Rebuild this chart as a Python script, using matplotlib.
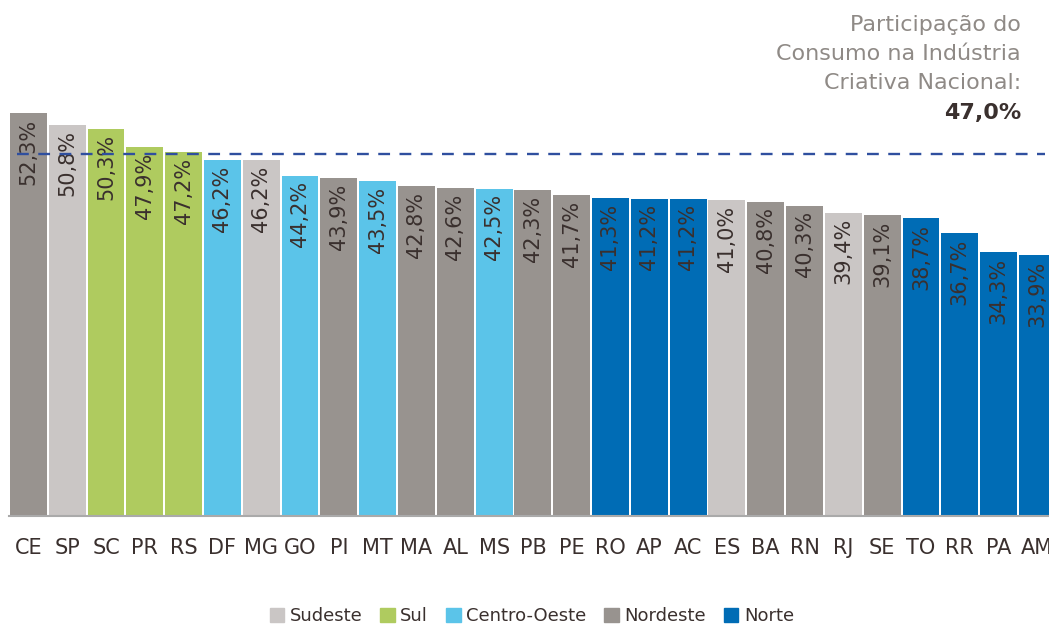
import matplotlib.pyplot as plt
from matplotlib.patches import Patch

# states, share (%) and region
estados = ['CE', 'SP', 'SC', 'PR', 'RS', 'DF', 'MG', 'GO', 'PI', 'MT', 'MA', 'AL', 'MS', 'PB',
           'PE', 'RO', 'AP', 'AC', 'ES', 'BA', 'RN', 'RJ', 'SE', 'TO', 'RR', 'PA', 'AM']
valores = [52.3, 50.8, 50.3, 47.9, 47.2, 46.2, 46.2, 44.2, 43.9, 43.5, 42.8, 42.6, 42.5, 42.3,
           41.7, 41.3, 41.2, 41.2, 41.0, 40.8, 40.3, 39.4, 39.1, 38.7, 36.7, 34.3, 33.9]
regioes = ['Nordeste', 'Sudeste', 'Sul', 'Sul', 'Sul', 'Centro-Oeste', 'Sudeste', 'Centro-Oeste',
           'Nordeste', 'Centro-Oeste', 'Nordeste', 'Nordeste', 'Centro-Oeste', 'Nordeste',
           'Nordeste', 'Norte', 'Norte', 'Norte', 'Sudeste', 'Nordeste', 'Nordeste', 'Sudeste',
           'Nordeste', 'Norte', 'Norte', 'Norte', 'Norte']
media_nacional = 47.0

cores = {'Sudeste': '#cac6c5', 'Sul': '#afcb5f', 'Centro-Oeste': '#5bc4e9',
         'Nordeste': '#98938f', 'Norte': '#006cb5'}
ordem_legenda = ['Sudeste', 'Sul', 'Centro-Oeste', 'Nordeste', 'Norte']

escuro = '#3a302e'
cinza_txt = '#8f8a86'

fig = plt.figure(figsize=(10.49, 6.26), dpi=100)
ax = fig.add_axes([9/1049, 110/626, 1040/1049, 516/626])

x = list(range(len(estados)))
ax.bar(x, valores, width=0.95, color=[cores[r] for r in regioes], zorder=2)

for xi, v in zip(x, valores):
    ax.annotate(f'{v:.1f}%'.replace('.', ','), (xi, v), xytext=(0, -4),
                textcoords='offset points', rotation=90, ha='center', va='top',
                fontsize=15, color=escuro, zorder=3)

line = ax.hlines(media_nacional, -0.3, 26.2, color='#2f4f9f', lw=1.7, zorder=4)
line.set_linestyle((0, (5, 4)))

ax.set_xlim(-0.5, 26.3)
ax.set_ylim(0, 67)
ax.set_xticks(x)
ax.set_xticklabels(estados, fontsize=15, color=escuro)
ax.tick_params(axis='x', length=0, pad=16)
ax.set_yticks([])
for s in ['top', 'right', 'left']:
    ax.spines[s].set_visible(False)
ax.spines['bottom'].set_color('#aaaaaa')
ax.spines['bottom'].set_linewidth(1.5)

# annotation top-right
linhas = ['Participação do', 'Consumo na Indústria', 'Criativa Nacional:']
for i, t in enumerate(linhas):
    fig.text(1021/1049, 1 - (31 + 29*i)/626, t, ha='right', va='baseline',
             fontsize=16, color=cinza_txt)
fig.text(1021/1049, 1 - 119/626, '47,0%', ha='right', va='baseline',
         fontsize=16, color=escuro, fontweight='bold')

handles = [Patch(color=cores[r], label=r) for r in ordem_legenda]
fig.legend(handles=handles, loc='center', bbox_to_anchor=(0.507, 10/626), ncol=5,
           frameon=False, fontsize=13, handlelength=0.8, handleheight=0.8,
           handletextpad=0.3, columnspacing=1.0, labelcolor=escuro)

fig.savefig('out.png', dpi=100)
